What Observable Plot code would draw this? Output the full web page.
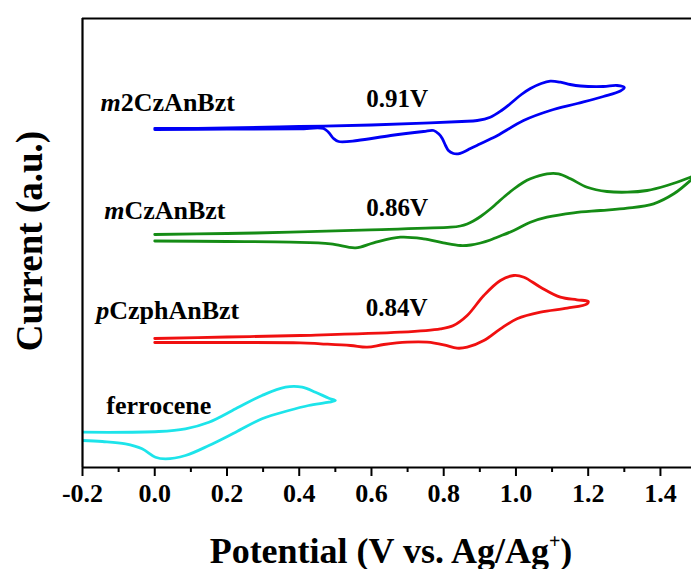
<!DOCTYPE html>
<html>
<head>
<meta charset="utf-8">
<script src="https://cdn.jsdelivr.net/npm/d3@7"></script>
<script src="https://cdn.jsdelivr.net/npm/@observablehq/plot@0.6"></script>
<style>
  body { margin: 0; background: #fff; }
  #chart svg { display: block; }
</style>
</head>
<body>
<div id="chart"></div>
<script>
// ---- Data (potential in V vs. Ag/Ag+, current in arbitrary units, offset per curve) ----
const m2CzAnBzt_V = [0.0, 0.2, 0.4, 0.6, 0.744, 0.85, 0.893, 0.929, 0.96, 0.985, 1.015, 1.04, 1.07, 1.095, 1.123, 1.15, 1.179, 1.242, 1.28, 1.30,
  1.289, 1.242, 1.17, 1.095, 1.021, 0.949, 0.929, 0.90, 0.874, 0.855, 0.84, 0.827, 0.813, 0.805, 0.796, 0.786, 0.772, 0.744, 0.653, 0.561, 0.509, 0.495, 0.481, 0.467, 0.4, 0.2, 0.0];
const m2CzAnBzt_I = [33.9, 33.95, 34.1, 34.25, 34.43, 34.6, 34.7, 35.03, 35.7, 36.4, 37.3, 37.9, 38.4, 38.63, 38.53, 38.3, 38.15, 38.1, 38.2, 38.0,
  37.65, 37.1, 36.4, 35.7, 34.7, 33.2, 32.85, 32.35, 31.9, 31.55, 31.37, 31.4, 31.7, 32.2, 32.9, 33.37, 33.7, 33.6, 33.2, 32.7, 32.6, 32.9, 33.53, 33.9, 33.87, 33.83, 33.8];

const mCzAnBzt_V = [0.0, 0.2, 0.376, 0.597, 0.819, 0.846, 0.865, 0.882, 0.902, 0.929, 0.948, 0.97, 0.994, 1.02, 1.04, 1.086, 1.118, 1.151, 1.197, 1.252, 1.308, 1.363, 1.418, 1.483, 1.50,
  1.483, 1.437, 1.381, 1.308, 1.234, 1.16, 1.086, 1.04, 0.994, 0.948, 0.929, 0.902, 0.875, 0.846, 0.799, 0.744, 0.68, 0.606, 0.556, 0.487, 0.376, 0.2, 0.0];
const mCzAnBzt_I = [23.3, 23.4, 23.53, 23.77, 24.03, 24.15, 24.35, 24.65, 25.1, 25.85, 26.45, 27.15, 27.85, 28.5, 28.87, 29.37, 29.37, 28.87, 28.03, 27.6, 27.53, 27.7, 28.2, 29.03, 29.3,
  28.7, 27.37, 26.37, 25.93, 25.7, 25.47, 25.03, 24.53, 23.7, 23.03, 22.75, 22.45, 22.25, 22.2, 22.47, 22.87, 23.03, 22.47, 21.97, 22.37, 22.53, 22.6, 22.65];

const pCzphAnBzt_V = [0.0, 0.2, 0.403, 0.68, 0.791, 0.827, 0.865, 0.911, 0.957, 0.994, 1.022, 1.068, 1.123, 1.169, 1.20,
  1.197, 1.142, 1.068, 1.003, 0.957, 0.911, 0.865, 0.837, 0.80, 0.754, 0.699, 0.634, 0.588, 0.542, 0.459, 0.403, 0.2, 0.0];
const pCzphAnBzt_I = [12.9, 13.05, 13.2, 13.53, 13.87, 14.2, 15.2, 17.2, 18.7, 19.2, 19.03, 18.03, 17.03, 16.77, 16.6,
  16.37, 15.93, 15.53, 14.87, 13.87, 12.7, 12.03, 11.93, 12.27, 12.53, 12.53, 12.3, 12.03, 12.2, 12.37, 12.47, 12.5, 12.5];

const ferrocene_V = [-0.2, 0.011, 0.085, 0.15, 0.224, 0.297, 0.362, 0.408, 0.445, 0.482, 0.50,
  0.482, 0.426, 0.371, 0.297, 0.224, 0.15, 0.085, 0.03, 0.002, -0.035, -0.081, -0.145, -0.2];
const ferrocene_I = [3.53, 3.6, 3.87, 4.53, 5.87, 7.2, 8.03, 8.03, 7.53, 6.93, 6.7,
  6.53, 6.2, 5.7, 4.87, 3.53, 2.2, 1.2, 0.87, 1.03, 1.87, 2.37, 2.6, 2.7];

const seriesNames = ["m2CzAnBzt", "mCzAnBzt", "pCzphAnBzt", "ferrocene"];
const seriesColors = ["#0000f5", "#158c15", "#f01010", "#1de4ea"];
const onsetLabels = ["0.91V", "0.86V", "0.84V"];
const xTickValues = [-0.2, 0.0, 0.2, 0.4, 0.6, 0.8, 1.0, 1.2, 1.4];
const xMinorTicks = [-0.1, 0.1, 0.3, 0.5, 0.7, 0.9, 1.1, 1.3];
const xTitle = "Potential (V vs. Ag/Ag+)";
const yTitle = "Current (a.u.)";

// ---- Build table ----
const seriesV = [m2CzAnBzt_V, mCzAnBzt_V, pCzphAnBzt_V, ferrocene_V];
const seriesI = [m2CzAnBzt_I, mCzAnBzt_I, pCzphAnBzt_I, ferrocene_I];
const rows = [];
seriesNames.forEach((name, k) => {
  seriesV[k].forEach((v, i) => rows.push({name, V: v, I: seriesI[k][i]}));
});

// annotation anchors (data coordinates)
const nameAnchors = [
  {text: seriesNames[0], x: -0.150, y: 35.7},
  {text: seriesNames[1], x: -0.140, y: 24.85},
  {text: seriesNames[2], x: -0.162, y: 14.9},
  {text: seriesNames[3], x: -0.134, y: 5.37}
];
const onsetAnchors = [
  {text: onsetLabels[0], x: 0.671, y: 36.1},
  {text: onsetLabels[1], x: 0.671, y: 25.2},
  {text: onsetLabels[2], x: 0.670, y: 15.2}
];

const plot = Plot.plot({
  width: 691,
  height: 569,
  marginLeft: 82,
  marginRight: 0,
  marginTop: 18,
  marginBottom: 102,
  style: "background: #fff; color: #000; overflow: visible;",
  x: {domain: [-0.2, 1.486]},
  y: {domain: [0, 44.9], axis: null},
  color: {domain: seriesNames, range: seriesColors},
  marks: [
    Plot.line(rows, {x: "V", y: "I", z: "name", stroke: "name", strokeWidth: 2.8, curve: "catmull-rom", clip: true}),
    Plot.ruleY([0], {stroke: "#000", strokeWidth: 2.2}),
    Plot.ruleY([44.9], {stroke: "#000", strokeWidth: 2.2}),
    Plot.ruleX([-0.2], {stroke: "#000", strokeWidth: 2.2}),
    Plot.axisX(xTickValues, {tickSize: 9, tickPadding: 7, strokeWidth: 2, fontSize: 26,
      tickFormat: d => d.toFixed(1), label: null}),
    Plot.axisX(xMinorTicks, {tickSize: 5, strokeWidth: 2, tickFormat: () => "", label: null}),
    Plot.text(nameAnchors, {x: "x", y: "y", text: "text", textAnchor: "start", lineAnchor: "bottom", fontSize: 26, fill: "#000"}),
    Plot.text(onsetAnchors, {x: "x", y: "y", text: "text", textAnchor: "middle", lineAnchor: "bottom", fontSize: 25, fill: "#000"}),
    Plot.text([xTitle], {text: d => d, frameAnchor: "bottom", textAnchor: "middle", lineAnchor: "bottom", dx: 4, dy: 95, fontSize: 36, fill: "#000"}),
    Plot.text([yTitle], {text: d => d, frameAnchor: "left", textAnchor: "middle", lineAnchor: "middle", rotate: -90, dx: -52, dy: -2, fontSize: 37, fill: "#000"})
  ]
});

// fonts: bold serif everywhere
d3.select(plot).attr("font-family", "Liberation Serif").attr("font-weight", "bold");
d3.select(plot).selectAll("g, text").attr("font-family", "Liberation Serif").attr("font-weight", "bold")
  .style("font-family", "'Liberation Serif', 'Times New Roman', serif").style("font-weight", "bold");

// italic prefixes and superscript
const italicPrefix = {"m2CzAnBzt": "m", "mCzAnBzt": "m", "pCzphAnBzt": "p"};
d3.select(plot).selectAll("text").each(function () {
  const t = this.textContent;
  if (italicPrefix[t]) {
    const p = italicPrefix[t];
    const sel = d3.select(this);
    sel.text(null);
    sel.append("tspan").attr("font-style", "italic").style("font-style", "italic").text(p);
    sel.append("tspan").text(t.slice(p.length));
  } else if (t === xTitle) {
    const sel = d3.select(this);
    sel.text(null);
    sel.append("tspan").text(t.slice(0, -2));
    sel.append("tspan").attr("dy", -15).attr("font-size", 20).text("+");
    sel.append("tspan").attr("dy", 15).text(")");
  }
});

document.getElementById("chart").append(plot);
</script>
</body>
</html>
